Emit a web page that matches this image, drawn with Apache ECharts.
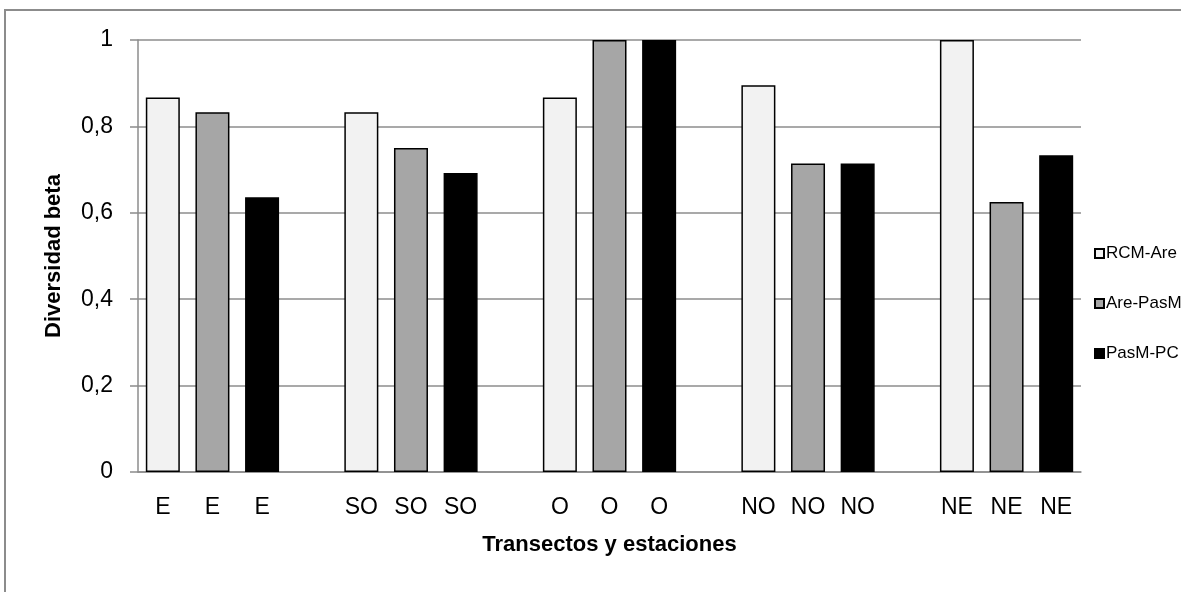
<!DOCTYPE html>
<html>
<head>
<meta charset="utf-8">
<script src="https://cdn.jsdelivr.net/npm/echarts@6/dist/echarts.min.js"></script>
<style>
  html, body { margin: 0; padding: 0; background: #fff; }
  #chart { width: 1181px; height: 592px; }
</style>
</head>
<body>
<div id="chart"></div>
<script>
// Transects, each with three station-pair comparisons
const transects = ['E', 'SO', 'O', 'NO', 'NE'];
const seriesNames = ['RCM-Are', 'Are-PasM', 'PasM-PC'];
const rcmAre  = [0.867, 0.833, 0.867, 0.895, 1.0];
const arePasM = [0.833, 0.75, 1.0, 0.714, 0.625];
const pasmPC  = [0.636, 0.692, 1.0, 0.714, 0.733];
const yTicks  = ['0', '0,2', '0,4', '0,6', '0,8', '1'];

const seriesValues = [rcmAre, arePasM, pasmPC];
const fills = ['#f2f2f2', '#a6a6a6', '#000000'];
const FONT = "'Liberation Sans', Arial, sans-serif";

// One slot per bar, with an empty slot between transects
const categories = [];
transects.forEach((t, i) => {
  categories.push(t, t, t);
  if (i < transects.length - 1) categories.push('');
});

const series = seriesValues.map((vals, k) => {
  const data = categories.map(() => null);
  vals.forEach((v, i) => { data[i * 4 + k] = v; });
  return {
    name: seriesNames[k],
    type: 'bar',
    stack: 'slot',
    barWidth: 34,
    data: data,
    itemStyle: { color: fills[k], borderColor: '#000', borderWidth: 1.5 }
  };
});

const chart = echarts.init(document.getElementById('chart'), null, { renderer: 'canvas' });
chart.setOption({
  animation: false,
  backgroundColor: '#fff',
  graphic: [{
    type: 'rect',
    z: -10,
    shape: { x: 5, y: 10, width: 1300, height: 700 },
    style: { fill: 'none', stroke: '#8c8c8c', lineWidth: 2 }
  }],
  grid: { left: 138, right: 100, top: 40, bottom: 120, containLabel: false },
  legend: {
    orient: 'vertical',
    left: 1089,
    top: 240,
    icon: 'rect',
    itemWidth: 9,
    itemHeight: 9,
    itemGap: 33,
    textStyle: { fontFamily: FONT, fontSize: 17, color: '#000', padding: [0, 0, 0, -3] },
    data: seriesNames
  },
  xAxis: {
    type: 'category',
    data: categories,
    axisTick: { show: false },
    axisLine: { lineStyle: { color: '#8c8c8c', width: 1.5 } },
    axisLabel: { interval: 0, fontFamily: FONT, fontSize: 23, color: '#000', margin: 24 },
    name: 'Transectos y estaciones',
    nameLocation: 'middle',
    nameGap: 62,
    nameTextStyle: { fontFamily: FONT, fontSize: 22, fontWeight: 'bold', color: '#000' }
  },
  yAxis: {
    type: 'value',
    min: 0,
    max: 1,
    interval: 0.2,
    axisLine: { show: true, lineStyle: { color: '#8c8c8c', width: 1.5 } },
    axisTick: { show: true, length: 8, lineStyle: { color: '#8c8c8c', width: 1.5 } },
    splitLine: { lineStyle: { color: '#8c8c8c', width: 1.5 } },
    axisLabel: {
      fontFamily: FONT, fontSize: 23, color: '#000', margin: 25,
      formatter: v => yTicks[Math.round(v / 0.2)]
    },
    name: 'Diversidad beta',
    nameLocation: 'middle',
    nameGap: 73,
    nameTextStyle: { fontFamily: FONT, fontSize: 22, fontWeight: 'bold', color: '#000' }
  },
  series: series
});
</script>
</body>
</html>
